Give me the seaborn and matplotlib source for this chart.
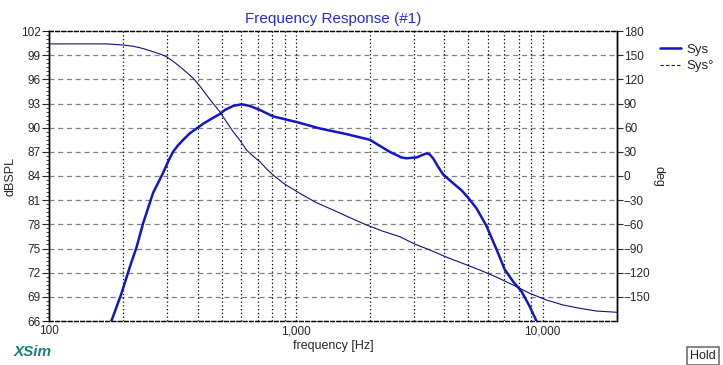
import numpy as np
import pandas as pd
import matplotlib
matplotlib.use("Agg")
import matplotlib.pyplot as plt
from matplotlib.lines import Line2D
from matplotlib.ticker import FixedLocator, MultipleLocator, NullLocator
import seaborn as sns

sns.set_style("white")
plt.rcParams["font.family"] = ["Liberation Sans", "DejaVu Sans"]

# SPL curve (dB)
spl_freq = [176, 181, 197, 213, 226, 241, 264, 290, 305, 318, 333, 350, 372, 396, 422,
            449, 492, 516, 557, 603, 651, 715, 760, 809, 861, 916, 1007, 1251, 1604,
            1816, 1995, 2120, 2256, 2400, 2557, 2680, 2806, 3083, 3250, 3383, 3480,
            3597, 3760, 3948, 4339, 4700, 4990, 5391, 5919, 6498, 7016, 7586, 8199,
            8860, 9372, 9600]
spl_db = [65.5, 66.4, 69.5, 72.8, 75.1, 78.2, 81.9, 84.4, 85.9, 87.0, 87.8, 88.5, 89.3, 89.9, 90.5,
          91.0, 91.7, 92.2, 92.7, 92.9, 92.7, 92.2, 91.8, 91.4, 91.2, 91.0, 90.7, 89.9, 89.2,
          88.8, 88.5, 88.0, 87.5, 87.0, 86.6, 86.3, 86.2, 86.3, 86.6, 86.8, 86.7,
          86.2, 85.2, 84.2, 83.1, 82.2, 81.3, 80.0, 77.8, 74.9, 72.4, 70.9, 69.7,
          67.8, 66.2, 65.5]

# phase curve (deg)
phase_freq = [100, 171, 200, 218, 233, 248, 264, 282, 299, 318, 339, 360, 384, 410, 435,
              462, 492, 523, 557, 593, 631, 672, 715, 760, 809, 900, 1038, 1200, 1416,
              1650, 1933, 2250, 2637, 3027, 3500, 4036, 4700, 5559, 6500, 7586, 8860,
              10350, 12080, 14120, 16480, 20000]
phase_deg = [164, 164, 162.6, 161.2, 159.3, 157.0, 154.3, 151.4, 148.1, 142.5, 135.7, 129.0,
             121.3, 111.0, 100.5, 90.0, 79.8, 67.5, 55.0, 44.5, 32.3, 24.5, 17.8, 9.0,
             1.2, -10.0, -21.5, -32.5, -42.2, -51.5, -60.8, -68.5, -75.3, -84.4, -92.0,
             -100.2, -108.0, -116.7, -125.5, -135.3, -145.6, -153.9, -160.1, -164.2,
             -167.6, -169.2]

db_ticks = list(range(66, 103, 3))
deg_ticks = list(range(-150, 181, 30))
grid_freqs = [f * m for m in (100, 1000) for f in range(2, 11)]

spl = pd.DataFrame({"freq": spl_freq, "db": spl_db})
phase = pd.DataFrame({"freq": phase_freq, "deg": phase_deg})

fig = plt.figure(figsize=(7.23, 3.65), dpi=100)
ax = fig.add_axes([49 / 723, 44 / 365, 568 / 723, 290 / 365])
ax2 = ax.twinx()

# grid
for y in db_ticks[1:-1]:
    ax.axhline(y, color="#808080", ls=(0, (4, 3)), lw=0.9, zorder=0)
for f in grid_freqs:
    ax.axvline(f, color="black", ls=(0, (1, 2)), lw=0.9, zorder=0)

sns.lineplot(data=phase, x="freq", y="deg", ax=ax2, color="#101080", lw=0.8)
sns.lineplot(data=spl, x="freq", y="db", ax=ax, color="#1414c8", lw=1.8, zorder=5)

ax.set_xscale("log")
ax.set_xlim(100, 20000)
ax.set_ylim(66, 102)
ax2.set_ylim(-180, 180)

ax.xaxis.set_major_locator(FixedLocator([100, 1000, 10000]))
ax.xaxis.set_minor_locator(NullLocator())
ax.set_xticklabels(["100", "1,000", "10,000"])
ax.set_yticks(db_ticks)
ax.yaxis.set_minor_locator(MultipleLocator(0.5))
ax2.set_yticks(deg_ticks)
ax2.yaxis.set_minor_locator(NullLocator())

ax.tick_params(axis="x", length=0, pad=3, labelsize=8.5)
ax.tick_params(axis="y", which="major", length=5, width=0.8, pad=1, labelsize=8.5, direction="out", left=True)
ax.tick_params(axis="y", which="minor", length=2.5, width=0.6, direction="out", left=True)
ax2.tick_params(axis="y", length=4, width=0.8, pad=1, labelsize=8.5, direction="out", right=True)

for a in (ax, ax2):
    for side in ("left", "right"):
        a.spines[side].set_color("black")
        a.spines[side].set_linewidth(1.0)
    for side in ("top", "bottom"):
        a.spines[side].set_color("black")
        a.spines[side].set_linestyle((0, (3, 2)))
        a.spines[side].set_linewidth(0.9)
    a.set_facecolor("none")

ax.set_xlabel("frequency [Hz]", fontsize=9, labelpad=2)
ax.set_ylabel("dBSPL", fontsize=9, labelpad=3)
ax2.set_ylabel("deg", fontsize=9, rotation=270, labelpad=10)
ax.set_title("Frequency Response (#1)", color="#2a2ad8", fontsize=11, pad=6)

handles = [Line2D([], [], color="#1414c8", lw=1.8),
           Line2D([], [], color="#101080", lw=0.8, ls=(0, (3, 2)))]
fig.legend(handles, ["Sys", "Sys\u00b0"], loc="upper left",
           bbox_to_anchor=(655 / 723, 1 - 38 / 365), frameon=False, fontsize=9.5,
           handlelength=1.6, handletextpad=0.4, labelspacing=0.35, borderaxespad=0)

fig.text(14 / 723, 1 - 352 / 365, "XSim", color="#1a7f7f", fontsize=11,
         fontweight="bold", style="italic", va="center", ha="left")
fig.text(703 / 723, 1 - 356 / 365, "Hold", fontsize=9, ha="center", va="center",
         bbox=dict(boxstyle="square,pad=0.25", fc="white", ec="#707070", lw=1.2))

fig.savefig("out.png", dpi=100)
